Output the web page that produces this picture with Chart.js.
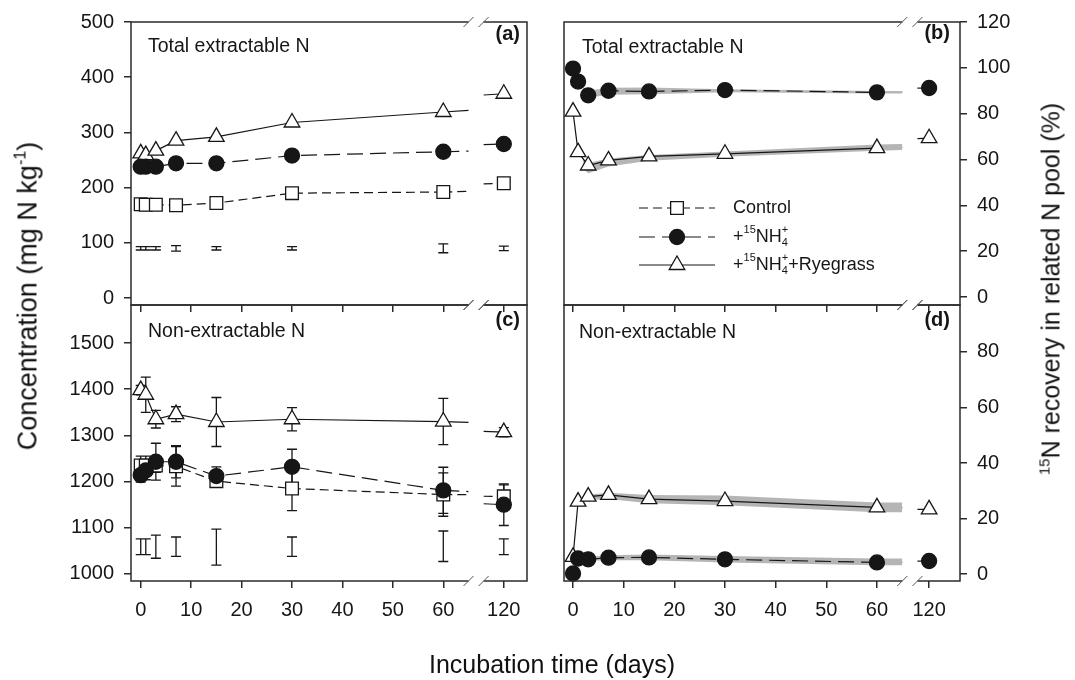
<!DOCTYPE html>
<html>
<head>
<meta charset="utf-8">
<script src="https://cdn.jsdelivr.net/npm/chart.js@4.4.1/dist/chart.umd.min.js"></script>
<style>
html,body{margin:0;padding:0;background:#fff;}
#wrap{position:relative;width:1075px;height:680px;overflow:hidden;background:#fff;font-family:"Liberation Sans",Arial,sans-serif;color:#111;}
#wrap canvas{position:absolute;left:0;top:0;}
.t{position:absolute;white-space:nowrap;line-height:1;}
.t sup{font-size:0.6em;vertical-align:0.65em;line-height:0;}
</style>
</head>
<body>
<div id="wrap">
<canvas id="cA" width="1075" height="680"></canvas>
<canvas id="cB" width="1075" height="680"></canvas>
<canvas id="cC" width="1075" height="680"></canvas>
<canvas id="cD" width="1075" height="680"></canvas>
<div class="t" style="left:28px;top:296px;font-size:27px;transform:translate(-50%,-50%) rotate(-90deg);">Concentration (mg N kg<sup>-1</sup>)</div>
<div class="t" style="left:1051px;top:289px;font-size:25px;transform:translate(-50%,-50%) rotate(-90deg);"><sup>15</sup>N recovery in related N pool (%)</div>
<div class="t" style="left:552px;top:664px;font-size:25px;transform:translate(-50%,-50%);">Incubation time (days)</div>
</div>
<script>
// ---------------- data ----------------
const days = [0, 1, 3, 7, 15, 30, 60, 120];
const tickDays = [0, 10, 20, 30, 40, 50, 60, 120];
const yTicksA = [0, 100, 200, 300, 400, 500];
const yTicksB = [0, 20, 40, 60, 80, 100, 120];
const yTicksC = [1000, 1100, 1200, 1300, 1400, 1500];
const yTicksD = [0, 20, 40, 60, 80];

// (a) Total extractable N, mg N/kg
const aControl = [170, 169, 169, 168, 172, 190, 192, 208];
const aNH4     = [238, 238, 238, 244, 244, 258, 265, 279];
const aRye     = [262, 259, 267, 285, 292, 318, 337, 370];
const aLSD     = [90, 90, 90, 90, 90, 90, 90, 90];
const aLSDerr  = [3, 3, 3, 5, 3, 3, 8, 4];

// (c) Non-extractable N, mg N/kg
const cControl    = [1235, 1235, 1235, 1233, 1201, 1185, 1172, 1168];
const cControlErr = [20, 20, 15, 43, 10, 48, 47, 25];
const cNH4        = [1214, 1224, 1243, 1243, 1212, 1232, 1181, 1150];
const cNH4Err     = [15, 20, 40, 35, 20, 38, 50, 45];
const cRye        = [1398, 1388, 1335, 1346, 1329, 1335, 1330, 1307];
const cRyeErr     = [10, 38, 19, 16, 53, 25, 50, 10];
const cLSD        = [1059, 1059, 1059, 1059, 1058, 1059, 1060, 1059];
const cLSDerr     = [17, 17, 25, 21, 39, 21, 33, 17];

// (b) 15N recovery in total extractable N, %
const bNH4 = [99.7, 94.0, 88.0, 90.0, 89.7, 90.3, 89.3, 91.2];
const bRye = [80.9, 63.2, 57.4, 59.6, 61.4, 62.5, 65.0, 69.3];
const bBandDays = [2, 3, 7, 15, 30, 60, 65];
const bNH4Lo = [88.5, 87.0, 88.3, 88.5, 89.3, 88.8, 88.8];
const bNH4Hi = [91.0, 90.0, 91.3, 91.4, 90.7, 89.9, 89.9];
const bRyeLo = [56.0, 54.0, 57.0, 59.5, 61.2, 63.8, 64.2];
const bRyeHi = [60.0, 58.5, 60.5, 62.0, 63.5, 66.5, 66.8];

// (d) 15N recovery in non-extractable N, %
const dNH4 = [0.2, 5.6, 5.3, 5.9, 6.0, 5.3, 4.2, 4.7];
const dRye = [6.2, 26.1, 27.9, 28.5, 27.0, 26.3, 24.0, 23.3];
const dNH4BandDays = [1, 3, 7, 15, 30, 60, 65];
const dNH4Lo = [5.0, 4.8, 5.0, 5.0, 4.2, 3.2, 3.2];
const dNH4Hi = [6.2, 6.2, 6.8, 7.0, 6.5, 5.6, 5.6];
const dRyeBandDays = [3, 7, 15, 30, 60, 65];
const dRyeLo = [26.7, 27.0, 25.5, 24.8, 22.3, 22.3];
const dRyeHi = [28.6, 29.3, 28.5, 28.3, 25.8, 25.8];

// ---------------- style ----------------
const FONT = '"Liberation Sans", Arial, sans-serif';
const INK = '#161616';
const AX = '#2b2b2b';
const BAND = '#b5b5b5';
const CUT = 65, RESUME = 68;   // axis break (in plotted units)

const ST = {
  control: {style: 'rect', r: 9, bg: '#ffffff', dash: [9, 5]},
  nh4:     {style: 'circle', r: 7.5, bg: INK, dash: [16, 7]},
  rye:     {style: 'triangle', r: 9, bg: '#ffffff', dash: []}
};

function mapper(shift) { return d => (d <= CUT ? d : d - shift); }

function lineDS(vals, st, shift, err) {
  const m = mapper(shift);
  return {
    data: days.map((d, i) => ({x: m(d), y: vals[i]})),
    rawVals: vals, realDays: days, stub: true,
    errorBars: err || null,
    borderColor: INK, borderWidth: 1.2, borderDash: st.dash,
    pointStyle: st.style, pointRadius: st.r, pointBackgroundColor: st.bg,
    pointBorderColor: INK, pointBorderWidth: 1.3, pointHoverRadius: st.r,
    fill: false, clip: false,
    segment: {borderColor: c => (c.p1.parsed.x > CUT && c.p0.parsed.x <= CUT) ? 'rgba(0,0,0,0)' : undefined}
  };
}
function lsdDS(vals, err, shift) {
  const m = mapper(shift);
  return {data: days.map((d, i) => ({x: m(d), y: vals[i]})), errorBars: err,
    showLine: false, pointRadius: 0, pointHoverRadius: 0, clip: false};
}
function bandDS(bd, lo, hi) {
  return [
    {data: bd.map((d, i) => ({x: d, y: lo[i]})), borderWidth: 0, pointRadius: 0, pointHoverRadius: 0, fill: false, borderColor: 'rgba(0,0,0,0)'},
    {data: bd.map((d, i) => ({x: d, y: hi[i]})), borderWidth: 0, pointRadius: 0, pointHoverRadius: 0, fill: '-1', backgroundColor: BAND, borderColor: 'rgba(0,0,0,0)'}
  ];
}

function drawMarker(ctx, st, x, y) {
  ctx.save();
  ctx.fillStyle = st.bg; ctx.strokeStyle = INK; ctx.lineWidth = 1.3; ctx.setLineDash([]);
  ctx.beginPath();
  if (st.style === 'circle') ctx.arc(x, y, st.r, 0, Math.PI * 2);
  else if (st.style === 'rect') { const s = Math.SQRT1_2 * st.r; ctx.rect(x - s, y - s, 2 * s, 2 * s); }
  else {
    for (let k = 0; k < 3; k++) {
      const a = k * 2 * Math.PI / 3;
      const px = x + Math.sin(a) * st.r, py = y - Math.cos(a) * st.r;
      if (k === 0) ctx.moveTo(px, py); else ctx.lineTo(px, py);
    }
    ctx.closePath();
  }
  ctx.fill(); ctx.stroke();
  ctx.restore();
}

function rich(ctx, x, y, parts, size) {
  const small = Math.round(size * 0.62);
  parts.forEach(p => {
    if (p.sup) {
      ctx.font = small + 'px ' + FONT; ctx.fillText(p.t, x, y - size * 0.38);
      x += ctx.measureText(p.t).width;
    } else if (p.sub) {
      ctx.font = small + 'px ' + FONT; ctx.fillText(p.t, x, y + size * 0.32);
      let w = ctx.measureText(p.t).width;
      if (p.sup2) { ctx.fillText(p.sup2, x, y - size * 0.38); w = Math.max(w, ctx.measureText(p.sup2).width); }
      x += w;
    } else {
      ctx.font = size + 'px ' + FONT; ctx.fillText(p.t, x, y);
      x += ctx.measureText(p.t).width;
    }
  });
}

function drawLegend(ctx) {
  const nh = [{t: '+'}, {t: '15', sup: 1}, {t: 'NH'}, {t: '4', sub: 1, sup2: '+'}];
  const rows = [
    {y: 208, st: ST.control, parts: [{t: 'Control'}]},
    {y: 237, st: ST.nh4, parts: nh},
    {y: 265, st: ST.rye, parts: nh.concat([{t: '+Ryegrass'}])}
  ];
  rows.forEach(r => {
    ctx.save();
    ctx.strokeStyle = INK; ctx.lineWidth = 1.2; ctx.setLineDash(r.st.dash);
    ctx.beginPath(); ctx.moveTo(639, r.y); ctx.lineTo(715, r.y); ctx.stroke();
    ctx.restore();
    drawMarker(ctx, r.st, 677, r.y);
    ctx.save(); ctx.fillStyle = INK; ctx.textBaseline = 'middle'; ctx.textAlign = 'left';
    rich(ctx, 733, r.y, r.parts, 18);
    ctx.restore();
  });
}

function mkPanel(id, P) {
  const m = mapper(P.shift);
  const yLeft = P.yPos === 'left';
  const pad = {
    left: yLeft ? P.area.l - 60 : P.area.l,
    right: yLeft ? 1075 - P.area.r : 1075 - P.area.r - 60,
    top: P.area.t,
    bottom: 680 - P.area.b - 40
  };
  const plug = {
    id: 'panel' + id,
    beforeDatasetsDraw(chart) {
      const ctx = chart.ctx, xs = chart.scales.x, ys = chart.scales.y;
      // error bars
      chart.data.datasets.forEach(ds => {
        if (!ds.errorBars) return;
        ctx.save(); ctx.strokeStyle = INK; ctx.lineWidth = 1.3; ctx.setLineDash([]);
        ctx.beginPath();
        ds.data.forEach((p, i) => {
          const e = ds.errorBars[i]; if (!e) return;
          const x = xs.getPixelForValue(p.x);
          const y1 = ys.getPixelForValue(p.y + e), y2 = ys.getPixelForValue(p.y - e);
          ctx.moveTo(x, y1); ctx.lineTo(x, y2);
          ctx.moveTo(x - 5, y1); ctx.lineTo(x + 5, y1);
          ctx.moveTo(x - 5, y2); ctx.lineTo(x + 5, y2);
        });
        ctx.stroke(); ctx.restore();
      });
      // line pieces across the axis break (real-time slope)
      chart.data.datasets.forEach(ds => {
        if (!ds.stub) return;
        const rd = ds.realDays, v = ds.rawVals;
        const i1 = rd.findIndex(d => d > CUT); if (i1 < 1) return;
        const i0 = i1 - 1, d0 = rd[i0], d1 = rd[i1];
        const dRes = RESUME + P.shift;
        const va = v[i0] + (v[i1] - v[i0]) * (CUT - d0) / (d1 - d0);
        const vb = v[i0] + (v[i1] - v[i0]) * (dRes - d0) / (d1 - d0);
        ctx.save(); ctx.strokeStyle = INK; ctx.lineWidth = ds.borderWidth; ctx.setLineDash(ds.borderDash || []);
        ctx.beginPath();
        ctx.moveTo(xs.getPixelForValue(m(d0)), ys.getPixelForValue(v[i0]));
        ctx.lineTo(xs.getPixelForValue(CUT), ys.getPixelForValue(va));
        ctx.moveTo(xs.getPixelForValue(RESUME), ys.getPixelForValue(vb));
        ctx.lineTo(xs.getPixelForValue(m(d1)), ys.getPixelForValue(v[i1]));
        ctx.stroke(); ctx.restore();
      });
    },
    afterDatasetsDraw(chart) {
      const ctx = chart.ctx, xs = chart.scales.x;
      const {left, right, top, bottom} = chart.chartArea;
      const xa = xs.getPixelForValue(CUT), xb = xs.getPixelForValue(RESUME);
      ctx.save();
      ctx.strokeStyle = AX; ctx.lineWidth = 1.5; ctx.setLineDash([]);
      ctx.beginPath();
      ctx.moveTo(left, top - 0.75); ctx.lineTo(left, bottom + 0.75);
      ctx.moveTo(right, top - 0.75); ctx.lineTo(right, bottom + 0.75);
      [top, bottom].forEach(y => { ctx.moveTo(left, y); ctx.lineTo(xa, y); ctx.moveTo(xb, y); ctx.lineTo(right, y); });
      ctx.stroke();
      ctx.strokeStyle = '#555'; ctx.lineWidth = 1;
      ctx.beginPath();
      [top, bottom].forEach(y => [xa, xb].forEach(x => { ctx.moveTo(x - 5, y + 5); ctx.lineTo(x + 5, y - 5); }));
      ctx.stroke();
      // panel texts
      ctx.fillStyle = INK; ctx.textBaseline = 'middle';
      ctx.textAlign = 'left'; ctx.font = '19.5px ' + FONT;
      ctx.fillText(P.title, P.titlePos[0], P.titlePos[1]);
      ctx.textAlign = 'right'; ctx.font = 'bold 20px ' + FONT;
      ctx.fillText(P.tag, P.tagPos[0], P.tagPos[1]);
      if (P.legend) drawLegend(ctx);
      ctx.restore();
    }
  };
  return new Chart(document.getElementById(id), {
    type: 'line',
    data: {datasets: P.datasets},
    options: {
      responsive: false, animation: false, devicePixelRatio: 1,
      events: [],
      layout: {padding: pad},
      plugins: {legend: {display: false}, tooltip: {enabled: false}},
      elements: {line: {tension: 0}},
      scales: {
        x: {
          type: 'linear', position: 'bottom', min: P.xMin, max: P.xMax,
          afterBuildTicks: s => { s.ticks = tickDays.map(d => ({value: m(d)})); },
          afterFit: s => { s.height = 40; },
          ticks: {display: P.showX, autoSkip: false, maxRotation: 0, padding: 10,
            color: INK, font: {family: FONT, size: 20},
            callback: (v, i) => String(tickDays[i])},
          grid: {drawOnChartArea: false, drawTicks: true, tickLength: 7, color: AX, lineWidth: 1.5},
          border: {display: false}
        },
        y: {
          type: 'linear', position: P.yPos, min: P.yMin, max: P.yMax,
          afterBuildTicks: s => { s.ticks = P.yTicks.map(v => ({value: v})); },
          afterFit: s => { s.width = 60; },
          ticks: {autoSkip: false, padding: 10, color: INK, font: {family: FONT, size: 20},
            callback: v => String(v)},
          grid: {drawOnChartArea: false, drawTicks: true, tickLength: 7, color: AX, lineWidth: 1.5},
          border: {display: false}
        }
      }
    },
    plugins: [plug]
  });
}

const SL = 48, SR = 49.7;
mkPanel('cA', {
  area: {l: 131, t: 20, r: 527, b: 305}, yPos: 'left', yMin: -12.6, yMax: 500, yTicks: yTicksA,
  xMin: -1.93, xMax: 76.6, shift: SL, showX: false,
  title: 'Total extractable N', titlePos: [148, 47], tag: '(a)', tagPos: [520, 34],
  datasets: [lineDS(aNH4, ST.nh4, SL), lineDS(aControl, ST.control, SL), lineDS(aRye, ST.rye, SL), lsdDS(aLSD, aLSDerr, SL)]
});
mkPanel('cB', {
  area: {l: 564, t: 20, r: 960, b: 305}, yPos: 'right', yMin: -3.47, yMax: 120, yTicks: yTicksB,
  xMin: -1.78, xMax: 76.4, shift: SR, showX: false, legend: true,
  title: 'Total extractable N', titlePos: [582, 48], tag: '(b)', tagPos: [950, 33],
  datasets: [lineDS(bNH4, ST.nh4, SR), lineDS(bRye, ST.rye, SR)]
    .concat(bandDS(bBandDays, bNH4Lo, bNH4Hi)).concat(bandDS(bBandDays, bRyeLo, bRyeHi))
});
mkPanel('cC', {
  area: {l: 131, t: 305, r: 527, b: 581}, yPos: 'left', yMin: 984.8, yMax: 1582.3, yTicks: yTicksC,
  xMin: -1.93, xMax: 76.6, shift: SL, showX: true,
  title: 'Non-extractable N', titlePos: [148, 332], tag: '(c)', tagPos: [520, 320],
  datasets: [lineDS(cNH4, ST.nh4, SL, cNH4Err), lineDS(cControl, ST.control, SL, cControlErr),
    lineDS(cRye, ST.rye, SL, cRyeErr), lsdDS(cLSD, cLSDerr, SL)]
});
mkPanel('cD', {
  area: {l: 564, t: 305, r: 960, b: 581}, yPos: 'right', yMin: -2.5, yMax: 96.9, yTicks: yTicksD,
  xMin: -1.78, xMax: 76.4, shift: SR, showX: true,
  title: 'Non-extractable N', titlePos: [579, 333], tag: '(d)', tagPos: [950, 320],
  datasets: [lineDS(dNH4, ST.nh4, SR), lineDS(dRye, ST.rye, SR)]
    .concat(bandDS(dNH4BandDays, dNH4Lo, dNH4Hi)).concat(bandDS(dRyeBandDays, dRyeLo, dRyeHi))
});
</script>
</body>
</html>
